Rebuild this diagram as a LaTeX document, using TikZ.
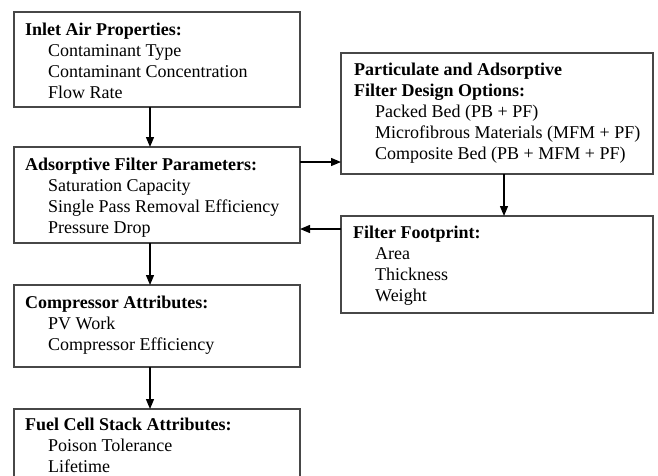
\documentclass[tikz,border=0pt]{standalone}
\usepackage{fontspec}
\setmainfont{Liberation Serif}
\usetikzlibrary{arrows.meta}
\begin{document}
\begin{tikzpicture}[x=1pt,y=-1pt,
  box/.style={draw=black!72, line width=1.2pt, rectangle, inner sep=0pt, outer sep=0pt},
  lbox/.style={box, minimum width=286pt},
  rbox/.style={box, minimum width=312pt},
  txt/.style={anchor=base west, inner sep=0pt, font=\fontsize{18}{21}\selectfont},
  arr/.style={draw=black, line width=1.3pt, -{Triangle[length=10pt,width=8pt]}}]
\useasboundingbox (0,0) rectangle (658,475);
\clip (0,0) rectangle (658,475);
% boxes
\node[lbox, minimum height=95pt] (b1) at (157,59.5) {};
\node[lbox, minimum height=96pt] (b2) at (157,195) {};
\node[lbox, minimum height=82pt] (b3) at (157,326) {};
\node[lbox, minimum height=102pt] (b4) at (157,460) {};
\node[rbox, minimum height=121pt] (b5) at (497,113.5) {};
\node[rbox, minimum height=97pt] (b6) at (497,264.5) {};
% texts
\node[txt] (t1) at ([xshift=11pt,yshift=-23pt]b1.north west) {\begin{tabular}[t]{@{}l@{}}\textbf{Inlet Air Properties:}\\
\hspace*{23pt}Contaminant Type\\
\hspace*{23pt}Contaminant Concentration\\
\hspace*{23pt}Flow Rate\end{tabular}};
\node[txt] (t2) at ([xshift=11pt,yshift=-23pt]b2.north west) {\begin{tabular}[t]{@{}l@{}}\textbf{Adsorptive Filter Parameters:}\\
\hspace*{23pt}Saturation Capacity\\
\hspace*{23pt}Single Pass Removal Efficiency\\
\hspace*{23pt}Pressure Drop\end{tabular}};
\node[txt] (t3) at ([xshift=11pt,yshift=-23pt]b3.north west) {\begin{tabular}[t]{@{}l@{}}\textbf{Compressor Attributes:}\\
\hspace*{23pt}PV Work\\
\hspace*{23pt}Compressor Efficiency\end{tabular}};
\node[txt] (t4) at ([xshift=11pt,yshift=-21pt]b4.north west) {\begin{tabular}[t]{@{}l@{}}\textbf{Fuel Cell Stack Attributes:}\\
\hspace*{23pt}Poison Tolerance\\
\hspace*{23pt}Lifetime\end{tabular}};
\node[txt] (t5) at ([xshift=13pt,yshift=-22pt]b5.north west) {\begin{tabular}[t]{@{}l@{}}\textbf{Particulate and Adsorptive}\\
\textbf{Filter Design Options:}\\
\hspace*{21pt}Packed Bed (PB + PF)\\
\hspace*{21pt}Microfibrous Materials (MFM + PF)\\
\hspace*{21pt}Composite Bed (PB + MFM + PF)\end{tabular}};
\node[txt] (t6) at ([xshift=12pt,yshift=-22pt]b6.north west) {\begin{tabular}[t]{@{}l@{}}\textbf{Filter Footprint:}\\
\hspace*{22pt}Area\\
\hspace*{22pt}Thickness\\
\hspace*{22pt}Weight\end{tabular}};
% connectors
\draw[arr] ([xshift=-7pt]b1.south) -- ([xshift=-7pt]b2.north);
\draw[arr] ([xshift=-7pt]b2.south) -- ([xshift=-7pt]b3.north);
\draw[arr] ([xshift=-7pt]b3.south) -- ([xshift=-7pt]b4.north);
\draw[arr] ([xshift=7pt]b5.south) -- ([xshift=7pt]b6.north);
\draw[arr] ([yshift=33pt]b2.east) -- ([yshift=33pt]b2.east -| b5.west);
\draw[arr] ([yshift=35.5pt]b6.west) -- ([yshift=35.5pt]b6.west -| b2.east);
\end{tikzpicture}
\end{document}
